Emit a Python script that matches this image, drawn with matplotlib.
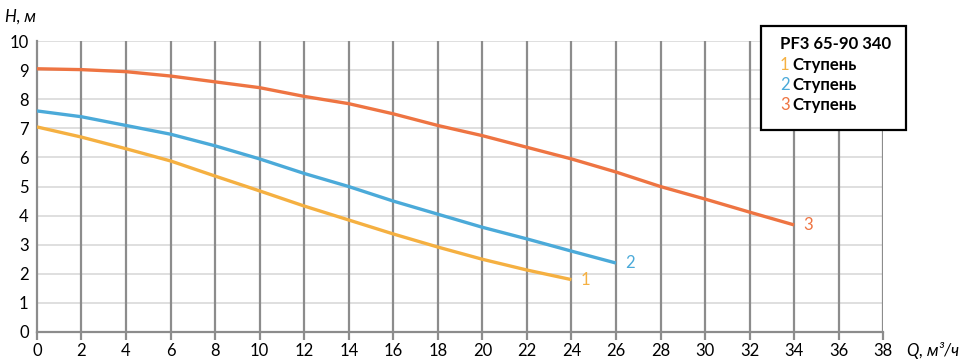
import matplotlib
matplotlib.use("Agg")
import matplotlib.pyplot as plt

plt.rcParams['font.family'] = ['Lato', 'DejaVu Sans']

q1 = [0, 2, 4, 6, 8, 10, 12, 14, 16, 18, 20, 22, 24]
h1 = [7.05, 6.7, 6.3, 5.88, 5.36, 4.85, 4.33, 3.85, 3.37, 2.92, 2.5, 2.13, 1.8]
q2 = [0, 2, 4, 6, 8, 10, 12, 14, 16, 18, 20, 22, 24, 26]
h2 = [7.6, 7.4, 7.1, 6.8, 6.4, 5.95, 5.45, 5.0, 4.5, 4.05, 3.6, 3.2, 2.78, 2.37]
q3 = [0, 2, 4, 6, 8, 10, 12, 14, 16, 18, 20, 22, 24, 26, 28, 30, 32, 34]
h3 = [9.05, 9.02, 8.95, 8.8, 8.6, 8.4, 8.1, 7.85, 7.5, 7.1, 6.75, 6.35, 5.95, 5.5, 5.0, 4.57, 4.12, 3.68]

series = [(q1, h1, '#F5B041', '1'), (q2, h2, '#4BAAD9', '2'), (q3, h3, '#EE7442', '3')]
xticks = list(range(0, 39, 2))
yticks = list(range(0, 11))

fig = plt.figure(figsize=(9.6, 3.64), dpi=100)
ax = fig.add_axes([0.0385, 0.088, 0.8815, 0.799])
ax.set_xlim(0, 38)
ax.set_ylim(0, 10)
ax.set_xticks(xticks)
ax.set_yticks(yticks)
ax.set_yticks([], minor=True)
for y in yticks[1:]:
    ax.axhline(y, color='#d9d9d9', lw=1.2, zorder=1)
for x in xticks[1:]:
    ax.axvline(x, color='#8c8c8c', lw=1.6, zorder=1)
for s in ['top', 'right']:
    ax.spines[s].set_visible(False)
ax.spines['left'].set_color('#8c8c8c')
ax.spines['left'].set_linewidth(1.6)
ax.spines['bottom'].set_color('#8c8c8c')
ax.spines['bottom'].set_linewidth(1.6)
ax.tick_params(axis='x', length=6, width=1.6, color='#8c8c8c', labelsize=12, pad=2)
ax.tick_params(axis='y', length=0, labelsize=12, pad=6)

for q, h, c, lab in series:
    ax.plot(q, h, color=c, lw=2.4, zorder=3, solid_capstyle='butt')
    ax.text(q[-1] + 0.4, h[-1], lab, color=c, fontsize=12, va='center', ha='left')

fig.text(0.005, 0.955, 'H, м', fontsize=12, style='italic', ha='left', va='center')
fig.text(0.945, 0.038, 'Q, м³/ч', fontsize=12, style='italic', ha='left', va='center')

# legend box
lx0, ly0, lx1, ly1 = 761/960, 1-130/364, 906/960, 1-26/364
from matplotlib.patches import Rectangle
fig.patches.append(Rectangle((lx0, ly0), lx1-lx0, ly1-ly0, transform=fig.transFigure,
                             facecolor='white', edgecolor='black', lw=1.6, zorder=5))
fig.text(780/960, 1-44/364, 'PF3 65-90 340', fontsize=12, fontweight='bold', va='center', zorder=6)
for i, (q, h, c, lab) in enumerate(series):
    yy = 1 - (65 + i*20)/364
    fig.text(780/960, yy, lab, color=c, fontsize=12, va='center', zorder=6)
    fig.text(792/960, yy, 'Ступень', color='black', fontsize=12, fontweight='bold', va='center', zorder=6)

fig.savefig('out.png', dpi=100)
